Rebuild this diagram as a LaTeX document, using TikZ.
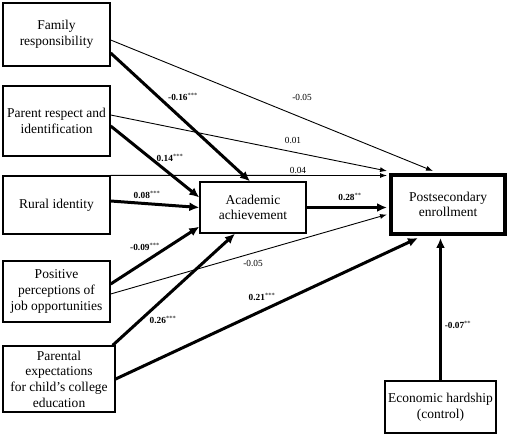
\documentclass[tikz,border=0pt]{standalone}
\usepackage{fontspec}
\setmainfont{Liberation Serif}
\usetikzlibrary{arrows.meta,calc}
\tikzset{
  box/.style={draw, line width=1.3pt, rectangle, inner sep=0pt, align=center,
    font=\fontsize{13.5}{15.7}\selectfont},
  thin/.style={line width=0.9pt, -{Latex[length=7pt,width=5pt]}},
  thick/.style={line width=3pt, -{Latex[length=10pt,width=9pt]}},
  lab/.style={inner sep=0pt, font=\fontsize{9.3}{10}\selectfont},
}
\newcommand{\stars}[1]{\textsuperscript{\fontsize{6.5}{6.5}\selectfont #1}}
\begin{document}
\begin{tikzpicture}[x=1pt,y=-1pt]
\useasboundingbox (0,0) rectangle (513,443);
\fill[white] (0,0) rectangle (513,443);
% boxes
\node[box, minimum width=107, minimum height=63] (fam) at (56.5,34.5) {Family\\responsibility};
\node[box, minimum width=107, minimum height=70] (par) at (56.5,121) {Parent respect and\\identification};
\node[box, minimum width=107, minimum height=58] (rur) at (56.5,205) {Rural identity};
\node[box, minimum width=107, minimum height=61] (pos) at (56.5,291.5) {Positive\\perceptions of\\job opportunities};
\node[box, minimum width=112, minimum height=66] (pex) at (59,379) {Parental\\expectations\\for child’s college\\education};
\node[box, minimum width=106, minimum height=51] (aca) at (253,207.5) {Academic\\achievement};
\node[box, line width=4pt, minimum width=114, minimum height=59] (pse) at (448,204.5) {Postsecondary\\enrollment};
\node[box, minimum width=111, minimum height=52] (eco) at (440.5,407) {Economic hardship\\(control)};
% connectors
\draw[thin] ($(fam.east)+(0,5.5)$) -- ($(pse.north)+(-15,-2)$);
\draw[thick] ($(fam.east)+(0,18.5)$) -- ($(aca.north)+(-3,0)$);
\draw[thin] ($(par.east)+(0,-6)$) -- ($(pse.north west)+(-2,-2)$);
\draw[thick] ($(par.east)+(0,5)$) -- ($(aca.west)+(0,-10)$);
\draw[thin] (rur.north east) -- ($(pse.west)+(-2,-29)$);
\draw[thick] ($(rur.east)+(0,-4)$) -- (aca.west);
\draw[thick] ($(pos.east)+(0,-7.5)$) -- ($(aca.south west)+(0,-7)$);
\draw[thin] ($(pos.east)+(0,2.5)$) -- ($(pse.west)+(-2,10)$);
\draw[thick] ($(pex.north east)+(-3,0)$) -- ($(aca.south)+(-18,0)$);
\draw[thick] (pex.east) -- ($(pse.south)+(-30,2)$);
\draw[thick] (aca.east) -- ($(aca.east -| pse.west)+(-2,0)$);
\draw[thick] (eco.north) -- ($(eco.north |- pse.south)+(0,2)$);
% labels
\node[lab] (l1) at (183,97) {\textbf{-0.16}\stars{***}};
\node[lab] (l2) at (302,97) {-0.05};
\node[lab] (l3) at (293,140) {0.01};
\node[lab] (l4) at (170,158) {\textbf{0.14}\stars{***}};
\node[lab] (l5) at (298,170) {0.04};
\node[lab] (l6) at (147,195) {\textbf{0.08}\stars{***}};
\node[lab] (l7) at (350,197) {\textbf{0.28}\stars{**}};
\node[lab] (l8) at (145,247) {\textbf{-0.09}\stars{***}};
\node[lab] (l9) at (253,263) {-0.05};
\node[lab] (l10) at (163,320) {\textbf{0.26}\stars{***}};
\node[lab] (l11) at (262,297) {\textbf{0.21}\stars{***}};
\node[lab] (l12) at (458,325) {\textbf{-0.07}\stars{**}};
\end{tikzpicture}
\end{document}
